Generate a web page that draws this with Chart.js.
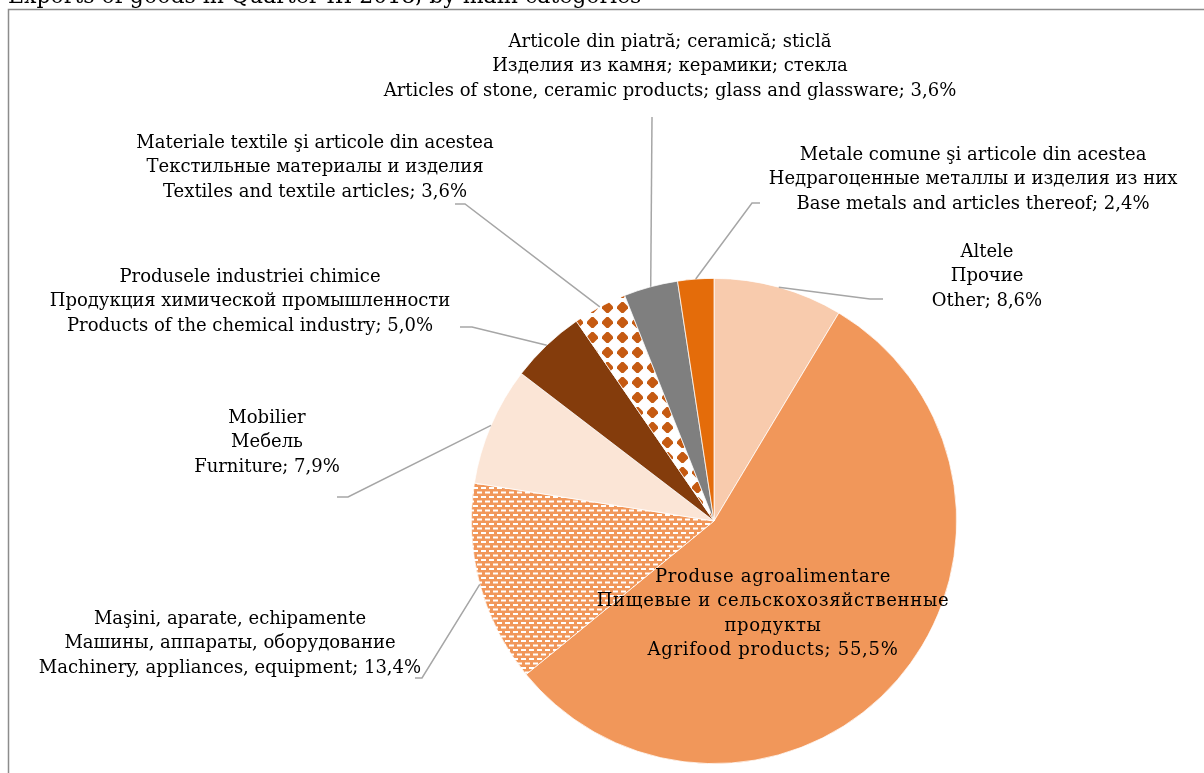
<!DOCTYPE html>
<html>
<head>
<meta charset="utf-8">
<script src="https://cdn.jsdelivr.net/npm/chart.js@4.4.1/dist/chart.umd.min.js"></script>
<style>
  html, body { margin: 0; padding: 0; background: #fff; overflow: hidden; }
  #box { position: relative; width: 1204px; height: 773px; }
</style>
</head>
<body>
<div id="box"><canvas id="chart"></canvas></div>
<script>
const titleText = "Exports of goods in Quarter III 2018, by main categories";

// clockwise from 12 o'clock
const labelsRo = [
  "Altele",
  "Produse agroalimentare",
  "Maşini, aparate, echipamente",
  "Mobilier",
  "Produsele industriei chimice",
  "Materiale textile şi articole din acestea",
  "Articole din piatră; ceramică; sticlă",
  "Metale comune şi articole din acestea",
];
const labelsRu = [
  "Прочие",
  "Пищевые и сельскохозяйственные\nпродукты",
  "Машины, аппараты, оборудование",
  "Мебель",
  "Продукция химической промышленности",
  "Текстильные материалы и изделия",
  "Изделия из камня; керамики; стекла",
  "Недрагоценные металлы и изделия из них",
];
const labelsEn = [
  "Other",
  "Agrifood products",
  "Machinery, appliances, equipment",
  "Furniture",
  "Products of the chemical industry",
  "Textiles and textile articles",
  "Articles of stone, ceramic products; glass and glassware",
  "Base metals and articles thereof",
];
const shares = [8.6, 55.5, 13.4, 7.9, 5.0, 3.6, 3.6, 2.4];

// where each label sits and how its leader bends (canvas px)
const labelLayout = [
  {x: 987, y: 252, bend: [870, 299], tail: [883, 299]},
  {x: 773, y: 577, inside: true},
  {x: 230, y: 619, bend: [422, 678], tail: [415, 678]},
  {x: 267, y: 418, bend: [348, 497], tail: [337, 497]},
  {x: 250, y: 277, bend: [472, 327], tail: [460, 327]},
  {x: 315, y: 143, bend: [465, 204], tail: [455, 204]},
  {x: 670, y: 42, bend: [652, 117], tail: [652, 117]},
  {x: 973, y: 155, bend: [752, 203], tail: [760, 203]},
];

const FONT = '18px "DejaVu Serif"';
const LINE_H = 24.5;

function makeDashPattern() {
  const c = document.createElement("canvas");
  c.width = 8;
  c.height = 9;
  const g = c.getContext("2d");
  g.fillStyle = "#f1975a";
  g.fillRect(0, 0, 8, 9);
  g.fillStyle = "#ffffff";
  g.fillRect(1, 1, 5, 2);
  g.fillRect(5, 5.5, 3, 2);
  g.fillRect(0, 5.5, 2, 2);
  return g.createPattern(c, "repeat");
}

function makeDiamondPattern() {
  const c = document.createElement("canvas");
  c.width = 15;
  c.height = 15;
  const g = c.getContext("2d");
  g.fillStyle = "#ffffff";
  g.fillRect(0, 0, 15, 15);
  g.fillStyle = "#c55a11";
  g.beginPath();
  g.moveTo(6.5, 2);
  g.lineTo(8.5, 2);
  g.lineTo(13, 6.5);
  g.lineTo(13, 8.5);
  g.lineTo(8.5, 13);
  g.lineTo(6.5, 13);
  g.lineTo(2, 8.5);
  g.lineTo(2, 6.5);
  g.closePath();
  g.fill();
  return g.createPattern(c, "repeat");
}

const sliceColors = [
  "#f8cbad",
  "#f1975a",
  makeDashPattern(),
  "#fbe5d6",
  "#843c0c",
  makeDiamondPattern(),
  "#7f7f7f",
  "#e46c0a",
];

function pct(v) {
  return v.toFixed(1).replace(".", ",") + "%";
}

const framePlugin = {
  id: "frame",
  beforeDraw(chart) {
    const ctx = chart.ctx;
    ctx.save();
    ctx.strokeStyle = "#8c8c8c";
    ctx.lineWidth = 1.5;
    ctx.strokeRect(8.5, 9.5, 1400, 1000);
    ctx.fillStyle = "#000";
    ctx.font = '22px "DejaVu Serif"';
    ctx.textAlign = "left";
    ctx.textBaseline = "alphabetic";
    ctx.fillText(titleText, 8, 3);
    ctx.restore();
  },
};

const labelPlugin = {
  id: "sliceLabels",
  afterDatasetsDraw(chart) {
    const ctx = chart.ctx;
    const arcs = chart.getDatasetMeta(0).data;
    ctx.save();
    arcs.forEach((arc, i) => {
      const lay = labelLayout[i];
      const {x, y, startAngle, endAngle, outerRadius} = arc.getProps(
        ["x", "y", "startAngle", "endAngle", "outerRadius"], true);
      const mid = (startAngle + endAngle) / 2;
      if (!lay.inside) {
        ctx.strokeStyle = "#a6a6a6";
        ctx.lineWidth = 1.5;
        ctx.beginPath();
        ctx.moveTo(x + Math.cos(mid) * outerRadius, y + Math.sin(mid) * outerRadius);
        ctx.lineTo(lay.bend[0], lay.bend[1]);
        ctx.lineTo(lay.tail[0], lay.tail[1]);
        ctx.stroke();
      }
      const lines = [labelsRo[i], ...labelsRu[i].split("\n"),
        labelsEn[i] + "; " + pct(shares[i])];
      ctx.fillStyle = "#000";
      ctx.font = FONT;
      ctx.letterSpacing = lay.inside ? "0.7px" : "0px";
      ctx.textAlign = "center";
      ctx.textBaseline = "middle";
      lines.forEach((t, k) => ctx.fillText(t, lay.x, lay.y + k * LINE_H));
    });
    ctx.restore();
  },
};

new Chart(document.getElementById("chart"), {
  type: "pie",
  data: {
    labels: labelsEn,
    datasets: [{
      data: shares,
      backgroundColor: sliceColors,
      borderColor: "#ffffff",
      borderWidth: 0.75,
    }],
  },
  options: {
    responsive: true,
    maintainAspectRatio: false,
    animation: false,
    events: [],
    layout: {padding: {left: 471, right: 247, top: 278, bottom: 9}},
    plugins: {
      legend: {display: false},
      title: {display: false},
      tooltip: {enabled: false},
    },
  },
  plugins: [framePlugin, labelPlugin],
});
</script>
</body>
</html>
